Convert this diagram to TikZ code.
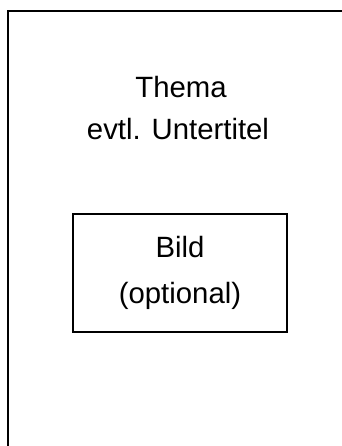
\documentclass[tikz,border=0pt]{standalone}
\usepackage{fontspec}
\setmainfont{Liberation Sans}

\tikzset{
	rahmen/.style={line width=1.5pt},
	titel/.style={anchor=base,inner sep=0pt,font=\fontsize{22}{26}\selectfont},
	bildbox/.style={draw,line width=1pt,inner sep=0pt,align=center,
		minimum width=160.5pt,minimum height=88.5pt,
		font=\fontsize{22}{35}\selectfont}
}

\begin{document}
\begin{tikzpicture}[x=0.75pt,y=0.75pt]
		\useasboundingbox (0,0) rectangle (342,446);

		% Seitenrand (nur oben und links sichtbar)
		\draw[rahmen] (8,0) -- (8,434.5) -- (342,434.5);

		\node[titel] (thema) at (181,348) {Thema};
		\node[titel] (untertitel) at (178,306) {evtl. Untertitel};

		\node[bildbox] (bild) at (180,173) {Bild\\(optional)};
	\end{tikzpicture}
\end{document}
